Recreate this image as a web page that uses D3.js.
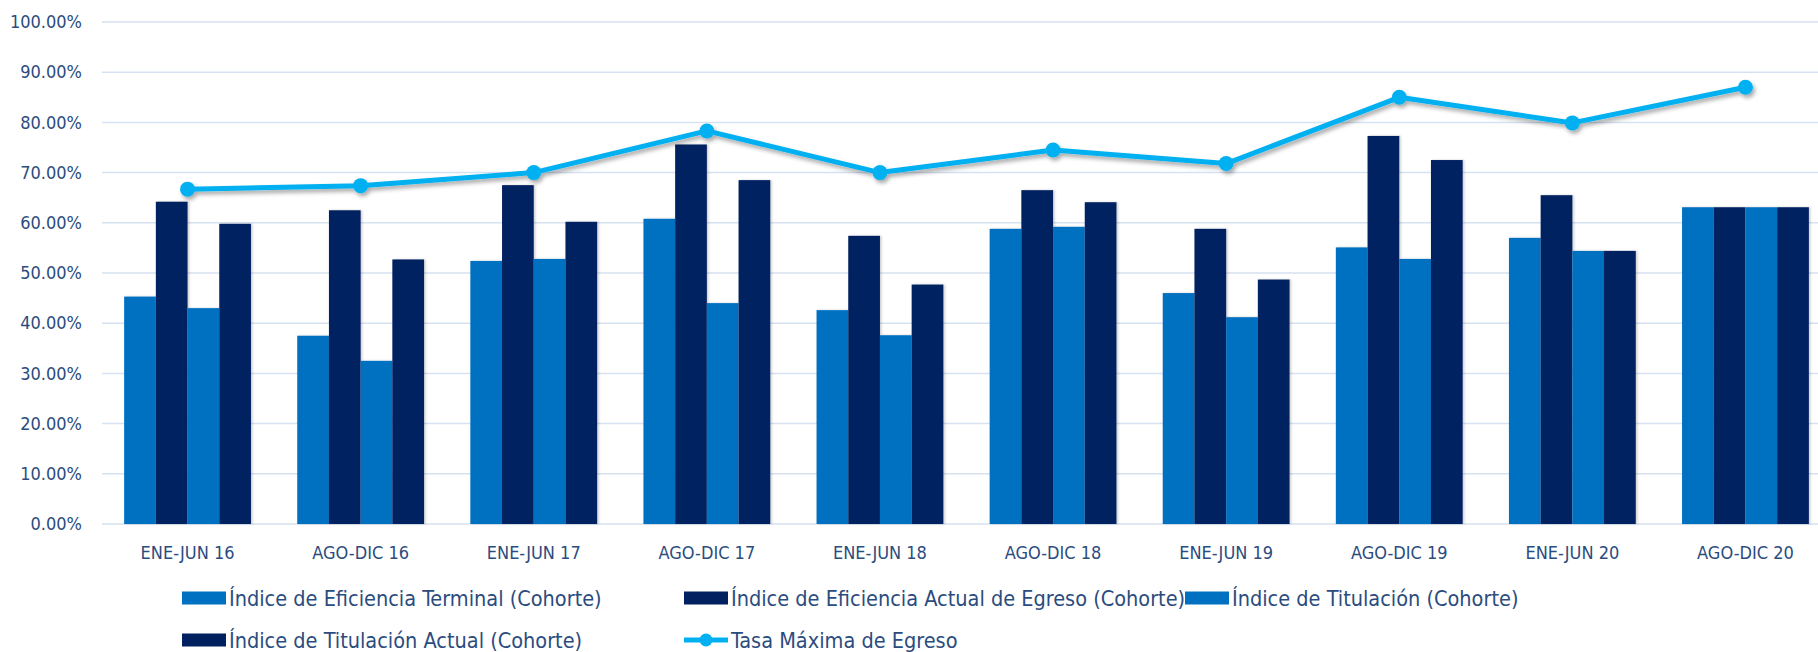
<!DOCTYPE html>
<html>
<head>
<meta charset="utf-8">
<script src="https://cdn.jsdelivr.net/npm/d3@7"></script>
<style>
  html, body { margin: 0; padding: 0; background: #fff; }
  svg text { font-family: "Liberation Sans Narrow", "DejaVu Sans Condensed", "Liberation Sans", sans-serif; fill: #2b4c7e; }
</style>
</head>
<body>
<div id="chart-area"></div>
<script>
/* Data */
const categories = ['ENE-JUN 16', 'AGO-DIC 16', 'ENE-JUN 17', 'AGO-DIC 17', 'ENE-JUN 18',
                    'AGO-DIC 18', 'ENE-JUN 19', 'AGO-DIC 19', 'ENE-JUN 20', 'AGO-DIC 20'];

const eficienciaTerminal = [45.3, 37.5, 52.4, 60.8, 42.6, 58.8, 46.0, 55.1, 57.0, 63.1];
const eficienciaActual   = [64.2, 62.5, 67.5, 75.6, 57.4, 66.5, 58.8, 77.3, 65.5, 63.1];
const titulacion         = [43.0, 32.5, 52.8, 44.0, 37.6, 59.2, 41.2, 52.8, 54.4, 63.1];
const titulacionActual   = [59.8, 52.7, 60.2, 68.5, 47.7, 64.1, 48.7, 72.5, 54.4, 63.1];
const tasaMaxima         = [66.7, 67.4, 70.0, 78.3, 70.0, 74.5, 71.8, 85.0, 79.9, 87.0];

const yTicks = [0, 10, 20, 30, 40, 50, 60, 70, 80, 90, 100];

const seriesNames = ['Índice de Eficiencia Terminal (Cohorte)',
                     'Índice de Eficiencia Actual de Egreso (Cohorte)',
                     'Índice de Titulación (Cohorte)',
                     'Índice de Titulación Actual (Cohorte)'];
const lineName = 'Tasa Máxima de Egreso';

const barSeries = [eficienciaTerminal, eficienciaActual, titulacion, titulacionActual];
const barColors = ['#0070c0', '#002060', '#0070c0', '#002060'];
const lineColor = '#00b0f0';

/* SVG */
const W = 1818, H = 652;
const svg = d3.select('#chart-area').append('svg')
    .attr('width', W).attr('height', H);

const defs = svg.append('defs');
defs.append('filter').attr('id', 'shadow')
    .attr('x', '-5%').attr('y', '-50%').attr('width', '110%').attr('height', '200%')
  .append('feDropShadow')
    .attr('dx', 2).attr('dy', 3).attr('stdDeviation', 2)
    .attr('flood-color', '#000').attr('flood-opacity', 0.35);
defs.append('filter').attr('id', 'barShadow')
    .attr('x', '-20%').attr('y', '-5%').attr('width', '140%').attr('height', '110%')
  .append('feDropShadow')
    .attr('dx', 1.5).attr('dy', 0).attr('stdDeviation', 1)
    .attr('flood-color', '#000').attr('flood-opacity', 0.2);

/* Scales */
const x = d3.scaleBand().domain(categories).range([101, 1832]);
const xs = d3.scaleBand().domain(d3.range(4)).range([0, x.bandwidth()]).paddingOuter(0.73);
const y = d3.scaleLinear().domain([0, 100]).range([524, 22]);

/* Grid */
svg.append('g').selectAll('line').data(yTicks).join('line')
    .attr('x1', 102).attr('x2', W)
    .attr('y1', d => y(d)).attr('y2', d => y(d))
    .attr('stroke', '#d6e1f1').attr('stroke-width', 1.5);

/* Y axis */
const yAxis = svg.append('g').attr('transform', 'translate(102,0)')
    .call(d3.axisLeft(y).tickValues(yTicks).tickSize(0).tickPadding(20)
        .tickFormat(d => d3.format('.2%')(d / 100)));
yAxis.select('.domain').remove();
yAxis.selectAll('text').attr('font-size', 18).style('fill', '#2b4c7e')
    .style('font-family', '"Liberation Sans Narrow", "DejaVu Sans Condensed", "Liberation Sans", sans-serif');

/* X axis */
const xAxis = svg.append('g').attr('transform', 'translate(0,524)')
    .call(d3.axisBottom(x).tickSize(0).tickPadding(22));
xAxis.select('.domain').remove();
xAxis.selectAll('text').attr('font-size', 18).style('fill', '#2b4c7e')
    .style('font-family', '"Liberation Sans Narrow", "DejaVu Sans Condensed", "Liberation Sans", sans-serif');

/* Bars */
const groups = svg.append('g').selectAll('g').data(categories).join('g')
    .attr('transform', d => `translate(${x(d)},0)`);

groups.selectAll('rect')
    .data((c, i) => barSeries.map((s, k) => ({ k: k, v: s[i] })))
    .join('rect')
    .attr('x', d => xs(d.k))
    .attr('width', xs.bandwidth())
    .attr('y', d => y(d.v))
    .attr('height', d => y(0) - y(d.v))
    .attr('fill', d => barColors[d.k])
    .attr('filter', 'url(#barShadow)');

/* Line */
const line = d3.line()
    .x((d, i) => x(categories[i]) + x.bandwidth() / 2)
    .y(d => y(d));

const lineG = svg.append('g').attr('filter', 'url(#shadow)');
lineG.append('path')
    .attr('d', line(tasaMaxima))
    .attr('fill', 'none')
    .attr('stroke', lineColor)
    .attr('stroke-width', 5)
    .attr('stroke-linejoin', 'round');
lineG.selectAll('circle').data(tasaMaxima).join('circle')
    .attr('cx', (d, i) => x(categories[i]) + x.bandwidth() / 2)
    .attr('cy', d => y(d))
    .attr('r', 7.5)
    .attr('fill', lineColor);

/* Legend */
const legendItems = [
    { name: seriesNames[0], type: 'bar', color: barColors[0], tx: 229, row: 0 },
    { name: seriesNames[1], type: 'bar', color: barColors[1], tx: 731, row: 0 },
    { name: seriesNames[2], type: 'bar', color: barColors[2], tx: 1232, row: 0 },
    { name: seriesNames[3], type: 'bar', color: barColors[3], tx: 229, row: 1 },
    { name: lineName,       type: 'line', color: lineColor,   tx: 731, row: 1 }
];
const rowY = [598, 640];
const sw = 44;

const legend = svg.append('g').selectAll('g').data(legendItems).join('g')
    .attr('transform', d => `translate(${d.tx},${rowY[d.row]})`);

legend.filter(d => d.type === 'bar').append('rect')
    .attr('x', -sw - 3).attr('y', -6.5)
    .attr('width', sw).attr('height', 13)
    .attr('fill', d => d.color);

const ll = legend.filter(d => d.type === 'line');
ll.append('line')
    .attr('x1', -sw - 3).attr('x2', -3)
    .attr('y1', 0).attr('y2', 0)
    .attr('stroke', d => d.color).attr('stroke-width', 5);
ll.append('circle')
    .attr('cx', -sw / 2 - 3).attr('cy', 0).attr('r', 6.5)
    .attr('fill', d => d.color);

legend.append('text')
    .attr('x', 0).attr('dy', '0.35em')
    .attr('font-size', 21.5)
    .text(d => d.name);
</script>
</body>
</html>
